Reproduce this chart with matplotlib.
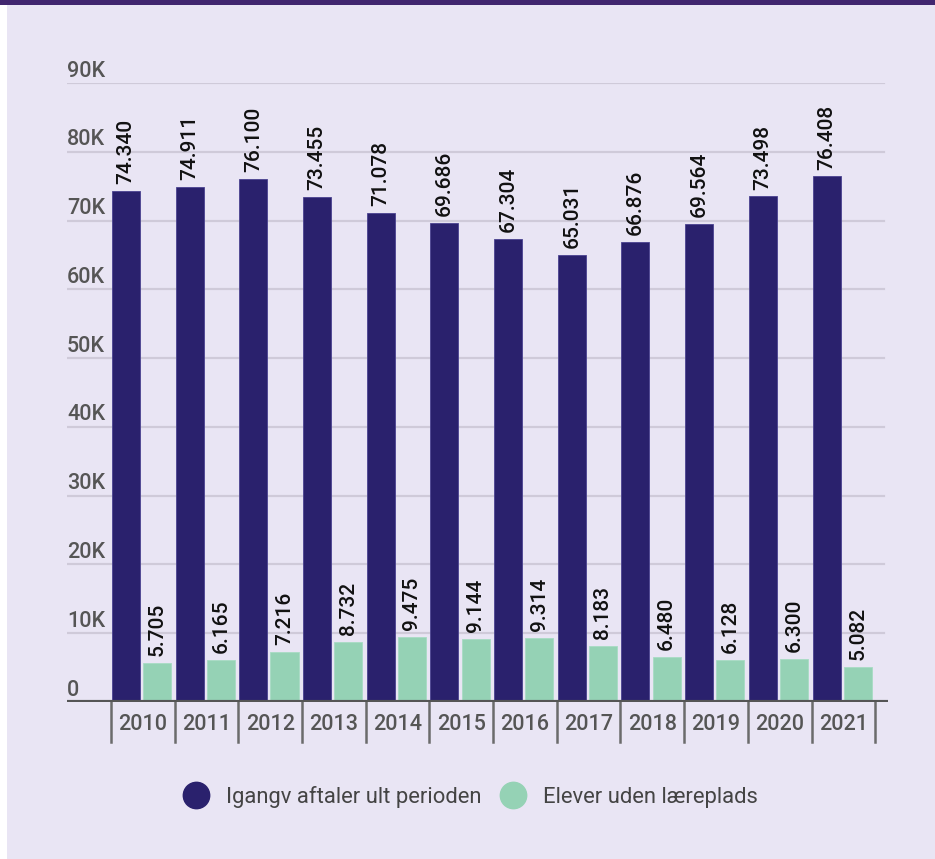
import matplotlib
matplotlib.use("Agg")
import matplotlib.pyplot as plt
from matplotlib.patches import Rectangle
from matplotlib.lines import Line2D
import matplotlib.transforms as mtransforms
import numpy as np

years = ["2010", "2011", "2012", "2013", "2014", "2015", "2016", "2017", "2018", "2019", "2020", "2021"]
igangv = [74340, 74911, 76100, 73455, 71078, 69686, 67304, 65031, 66876, 69564, 73498, 76408]
elever = [5705, 6165, 7216, 8732, 9475, 9144, 9314, 8183, 6480, 6128, 6300, 5082]
series_names = ["Igangv aftaler ult perioden", "Elever uden læreplads"]
y_ticks = [0, 10000, 20000, 30000, 40000, 50000, 60000, 70000, 80000, 90000]
y_tick_labels = ["0", "10K", "20K", "30K", "40K", "50K", "60K", "70K", "80K", "90K"]

DARK = "#2a216d"
GREEN = "#95d2b5"
BG = "#e9e5f4"
BAND = "#41266f"
GRID = "#cfcad9"
TXT = "#555555"

plt.rcParams["font.family"] = ["Roboto", "DejaVu Sans"]

W, H = 935, 859
fig = plt.figure(figsize=(W / 100, H / 100), dpi=100)
fig.patch.set_facecolor("white")
fig.patches.append(Rectangle((7 / W, 0 / H), 1 - 7 / W, (H - 5) / H, transform=fig.transFigure,
                             facecolor=BG, edgecolor="none", zorder=-2))
fig.patches.append(Rectangle((0, (H - 5) / H), 1, 5 / H, transform=fig.transFigure,
                             facecolor=BAND, edgecolor="none", zorder=-2))

left_px, right_px, bottom_px, top_px = 67, 888, 702, 83
ax = fig.add_axes([left_px / W, (H - bottom_px) / H, (right_px - left_px) / W, (bottom_px - top_px) / H])
ax.set_facecolor("none")

x = np.arange(len(years))
bw = 0.44
ax.bar(x - 0.265, igangv, width=bw, color=DARK, edgecolor="#4a4290", linewidth=0.6, zorder=3)
ax.bar(x + 0.225, elever, width=bw, color=GREEN, edgecolor="#a8dcc4", linewidth=0.6, zorder=3)

ax.set_xlim(-1.19, 11.70)
ax.set_ylim(0, 90000)

for s in ax.spines.values():
    s.set_visible(False)
ax.set_xticks([])
ax.set_yticks([])

# gridlines
for v in y_ticks[1:]:
    ax.plot([-1.19, 11.63], [v, v], color=GRID, linewidth=1.6, zorder=1)
# baseline
ax.plot([-1.19, 11.70], [0, 0], color="#555555", linewidth=3, zorder=4, solid_capstyle="butt")

# y labels above gridlines
off = mtransforms.offset_copy(ax.transData, fig=fig, x=0, y=1, units="points")
for v, lab in zip(y_ticks, y_tick_labels):
    ax.text(-1.19, v, lab, transform=off, ha="left", va="bottom", fontsize=15.5,
            fontweight="medium", color=TXT)

# category separators and year labels
for i in range(len(years) + 1):
    ax.plot([i - 0.5, i - 0.5], [0, -5800], color="#6b6b6b", linewidth=1.8, clip_on=False, zorder=2)
for i, yr in enumerate(years):
    ax.text(i, -3250, yr, ha="center", va="center", fontsize=15.5, fontweight="medium",
            color=TXT, clip_on=False)

def fmt(v):
    return f"{v:,}".replace(",", ".")

lab_off = mtransforms.offset_copy(ax.transData, fig=fig, x=0, y=5, units="points")
for xi, v in zip(x - 0.265, igangv):
    ax.text(xi, v, fmt(v), transform=lab_off, rotation=90, ha="center", va="bottom",
            fontsize=15, fontweight="medium", color="#111111")
for xi, v in zip(x + 0.225, elever):
    ax.text(xi, v, fmt(v), transform=lab_off, rotation=90, ha="center", va="bottom",
            fontsize=15, fontweight="medium", color="#111111")

handles = [Line2D([0], [0], marker="o", linestyle="none", markersize=19, markerfacecolor=DARK,
                  markeredgecolor=DARK),
           Line2D([0], [0], marker="o", linestyle="none", markersize=19, markerfacecolor=GREEN,
                  markeredgecolor=GREEN)]
leg = fig.legend(handles, series_names, loc="center", bbox_to_anchor=(471 / W, 1 - 797 / H),
                 ncol=2, frameon=False, prop={"size": 15.8},
                 handletextpad=0.85, columnspacing=0.9, handlelength=1.05)
for t in leg.get_texts():
    t.set_color("#444444")

fig.savefig("out.png", dpi=100, facecolor=fig.get_facecolor())
